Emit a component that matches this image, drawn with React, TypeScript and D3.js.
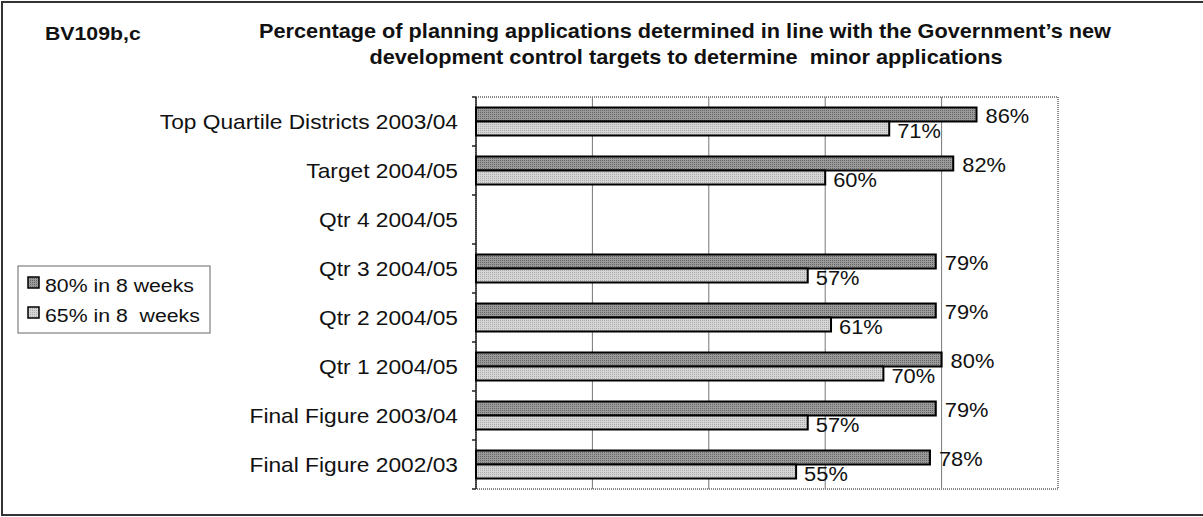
import React from "react";
import * as d3 from "d3";

const categories = [
  "Top Quartile Districts 2003/04",
  "Target 2004/05",
  "Qtr 4 2004/05",
  "Qtr 3 2004/05",
  "Qtr 2 2004/05",
  "Qtr 1 2004/05",
  "Final Figure 2003/04",
  "Final Figure 2002/03",
];
const series80: (number | null)[] = [86, 82, null, 79, 79, 80, 79, 78];
const series65: (number | null)[] = [71, 60, null, 57, 61, 70, 57, 55];
const seriesNames = ["80% in 8 weeks", "65% in 8  weeks"];
const gridTicks = [20, 40, 60, 80];

const W = 1203;
const H = 517;
const plot = { left: 476, right: 1058, top: 97, bottom: 489 };
const FONT = "'Liberation Sans', Arial, sans-serif";
const SX = 1.12;

function T({ x, y, anchor = "start", size = 19.5, weight = "normal", children }: any) {
  return (
    <text
      transform={`translate(${x},${y}) scale(${SX},1)`}
      textAnchor={anchor}
      fontFamily={FONT}
      fontSize={size}
      fontWeight={weight}
      fill="#111"
      style={{ whiteSpace: "pre" }}
    >
      {children}
    </text>
  );
}

export default function App() {
  const x = d3.scaleLinear().domain([0, 100]).range([plot.left, plot.right]);
  const y = d3.scaleBand<string>().domain(categories).range([plot.top, plot.bottom]).padding(0);
  const barH = 14;
  const bw = y.bandwidth();

  return (
    <svg width={W} height={H} style={{ position: "absolute", left: 0, top: 0, background: "#fff" }}>
      <defs>
        <pattern id="pd" width="2" height="2" patternUnits="userSpaceOnUse">
          <rect width="2" height="2" fill="#9a9a9a" />
          <rect width="1" height="1" fill="#666" />
        </pattern>
        <pattern id="pl" width="2" height="2" patternUnits="userSpaceOnUse">
          <rect width="2" height="2" fill="#d6d6d6" />
          <rect width="1" height="1" fill="#ababab" />
        </pattern>
      </defs>
      <rect x={0} y={0} width={W} height={H} fill="#fff" />
      <rect x={2} y={2} width={W + 4} height={H - 4} fill="none" stroke="#333" strokeWidth={2} />

      <T x={45} y={40} size={19} weight="bold">BV109b,c</T>
      <T x={685} y={38} size={19.4} weight="bold" anchor="middle">
        Percentage of planning applications determined in line with the Government’s new
      </T>
      <T x={686} y={64} size={19.4} weight="bold" anchor="middle">
        {"development control targets to determine  minor applications"}
      </T>

      {gridTicks.map((t) => (
        <line key={t} x1={x(t)} x2={x(t)} y1={plot.top} y2={plot.bottom} stroke="#777" strokeWidth={1} />
      ))}
      <rect
        x={plot.left}
        y={plot.top}
        width={plot.right - plot.left}
        height={plot.bottom - plot.top}
        fill="none"
        stroke="#888"
        strokeWidth={2}
        strokeDasharray="1 1"
      />
      <line x1={plot.left} x2={plot.left} y1={plot.top} y2={plot.bottom} stroke="#222" strokeWidth={1.5} />
      {categories.map((c) => (
        <line key={"t" + c} x1={plot.left - 4} x2={plot.left} y1={y(c)!} y2={y(c)!} stroke="#222" strokeWidth={1.5} />
      ))}
      <line x1={plot.left - 4} x2={plot.left} y1={plot.bottom} y2={plot.bottom} stroke="#222" strokeWidth={1.5} />

      {categories.map((c, i) => {
        const cy = y(c)! + bw / 2;
        const a = series80[i];
        const b = series65[i];
        return (
          <g key={c}>
            <T x={458} y={cy + 7} anchor="end" size={20.3}>{c}</T>
            {a != null && (
              <>
                <rect x={x(0)} y={cy - barH} width={x(a) - x(0)} height={barH} fill="url(#pd)" stroke="#000" strokeWidth={2} />
                <T x={x(a) + 9} y={cy - barH / 2 + 8}>{a}%</T>
              </>
            )}
            {b != null && (
              <>
                <rect x={x(0)} y={cy} width={x(b) - x(0)} height={barH} fill="url(#pl)" stroke="#000" strokeWidth={2} />
                <T x={x(b) + 8} y={cy + barH / 2 + 9}>{b}%</T>
              </>
            )}
          </g>
        );
      })}

      <rect x={18} y={266} width={192} height={67} fill="#fff" stroke="#666" strokeWidth={1} />
      {seriesNames.map((n, i) => (
        <g key={n}>
          <rect x={28} y={277 + i * 30} width={11} height={11} fill={i === 0 ? "url(#pd)" : "url(#pl)"} stroke="#000" strokeWidth={1.5} />
          <T x={45} y={292 + i * 30} size={19}>{n}</T>
        </g>
      ))}
    </svg>
  );
}
